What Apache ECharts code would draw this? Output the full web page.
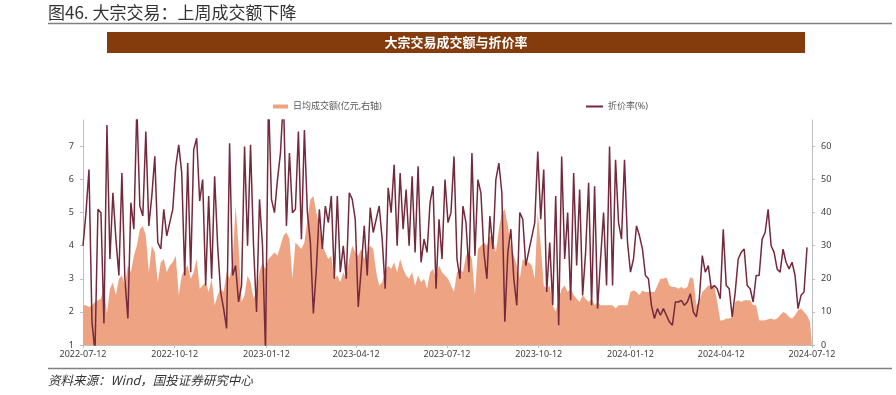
<!DOCTYPE html>
<html><head><meta charset="utf-8">
<script src="https://cdn.jsdelivr.net/npm/echarts@6/dist/echarts.min.js"></script>
<style>html,body{margin:0;padding:0;background:#fff}#c{width:896px;height:395px}</style>
</head><body><div id="c"></div>
<script>
// ---- data ----
const startDate = '2022-07-12';
const endDate = '2024-07-12';
const stepDays = 3; // sampling step of the values below (calendar days)
const xTickDates = ['2022-07-12','2022-10-12','2023-01-12','2023-04-12','2023-07-12','2023-10-12','2024-01-12','2024-04-12','2024-07-12'];
const leftTicks = [1,2,3,4,5,6,7];
const rightTicks = [0,10,20,30,40,50,60];

// 日均成交额 (亿元, right axis)
const turnoverP1 = [12,12,11.5,12,13,13.5,14,18,9.5,17,
  19,15,20,21,18,24,22,27,30,35,
  36,33,22,30,28,19,25,26,22,24,
  25,27,15,21,23,24,20,22,26,17,
  18,19,16,20,12,15,17,16,22,20,
  25,42,30,13,15,21,19,14,16,22,
  25,23];
const turnoverP2 = [26,27,28,27,30,33,34,32,20,31,
  30,29,31,38,44,45,40,36,30,28,
  26,27,20,21,19,22,20,26,30,28,
  27,29,26,28,30,29,22,18,19,22,
  24,23,25,22,26,23,21,20,22,18,
  21,19,20,17,22,23,20,24,22,21];
const turnoverP3 = [20,18,16,22,23,22,27,28,26,15,
  29,30,31,30,33,32,28,35,40,41,
  36,30,27,24,20,26,25,25,24,20,
  40,30,18,17,18,12,10,14,17,18,
  16,17,15,14,13,15,14,13,14,12,
  13,12,12,12,12,12,11,12,12,12,
  12];
const turnoverP4 = [16,16.5,16,15,16.5,16,16,16,16,18,
  20,20,20.5,18,17.5,17.5,17,17.5,17,17.5,
  20.5,20,12,13,16,17,18,18,18,13,
  7.4,7.5,8,8,8.5,13,13.5,13,13.5,13.5,
  13.5,12,12,7.5,7.4,7.5,7.8,8,7.6,8,
  9,10,9.5,8.5,8,9,10.5,11,10,9,
  7,6.5];

// 折价率 (%, left axis)
const discountP1 = [4.0,5.0,6.3,1.7,0.8,5.1,5.0,1.65,7.65,3.6,
  5.6,4.2,3.1,6.2,3.0,1.8,5.3,4.5,8.2,5.2,
  4.9,7.45,4.6,5.5,6.7,4.1,3.9,5.1,4.3,4.7,
  5.1,6.4,7.05,6.2,3.1,6.5,3.2,6.9,7.25,5.35,
  6.0,2.8,5.5,3.0,6.1,4.0,2.6,2.1,1.5,7.1,
  3.1,3.4,2.3,2.8,7.0,4.0,7.05,4.0,2.0,5.4,
  4.0,0.8];
const discountP2 = [8.5,5.4,5.0,6.0,6.8,8.5,4.6,6.8,5.0,5.1,
  7.45,4.2,7.5,5.0,4.1,1.95,3.3,5.1,3.9,5.2,
  4.7,5.5,3.0,5.5,3.2,4.0,3.0,5.6,5.4,4.8,
  2.15,3.3,4.6,3.1,5.15,4.4,4.8,5.2,4.2,2.7,
  5.75,5.0,6.45,4.0,6.2,4.5,5.7,4.0,6.1,3.8,
  6.4,3.5,4.2,3.8,5.3,5.8,2.7,4.8,3.6,6.0];
const discountP3 = [4.7,5.0,6.7,3.6,3.0,5.2,4.7,3.2,6.8,3.7,
  6.0,5.6,3.8,3.0,4.9,3.9,6.0,6.5,5.6,1.7,
  3.8,4.5,3.0,2.2,5.0,4.8,3.4,null,null,4.7,
  6.85,4.8,6.3,2.6,4.1,2.2,5.5,1.6,6.7,3.6,
  5.0,2.35,6.2,3.4,5.7,2.5,3.8,5.9,2.2,5.8,
  2.1,3.6,5.0,2.8,7.0,2.8,6.6,4.7,4.2,6.6,
  4.1];
const discountP4 = [3.2,3.6,4.6,4.3,3.9,3.1,3.0,2.2,1.8,2.1,
  1.9,2.1,1.9,1.7,1.6,2.3,2.3,2.35,2.2,2.3,
  2.55,2.0,1.85,2.4,3.7,3.2,3.4,2.7,2.8,2.7,
  2.4,4.5,2.8,2.7,1.85,2.6,3.6,3.8,3.9,2.8,
  2.7,2.3,3.1,3.1,4.2,4.4,5.1,4.0,3.8,3.3,
  3.2,3.9,3.5,3.3,3.5,3.1,2.1,2.5,2.6,3.95,
  null,null];

// ---- build ----
function parseDate(s){const p=s.split('-').map(Number);return new Date(p[0],p[1]-1,p[2]);}
function fmt(v){const d=new Date(v);return d.getFullYear()+'-'+String(d.getMonth()+1).padStart(2,'0')+'-'+String(d.getDate()).padStart(2,'0');}
const t0 = parseDate(startDate), t1 = parseDate(endDate);
const turnover = [].concat(turnoverP1, turnoverP2, turnoverP3, turnoverP4);
const discount = [].concat(discountP1, discountP2, discountP3, discountP4);
const dates = [];
for (let i = 0; i < turnover.length - 1; i++) {
  dates.push(new Date(t0.getFullYear(), t0.getMonth(), t0.getDate() + stepDays * i).getTime());
}
dates.push(t1.getTime());
const xTickVals = xTickDates.map(s => parseDate(s).getTime());

const AREA = '#EEA383', LINE = '#74293D', AXIS = '#BFBFBF', LABEL = '#404040';
const chart = echarts.init(document.getElementById('c'), null, {renderer:'canvas'});
chart.setOption({
  animation: false,
  backgroundColor: '#fff',
  textStyle: {fontFamily: '"Noto Sans","Noto Sans CJK SC",sans-serif'},
  grid: {left: 83, right: 84, top: 120, bottom: 50, containLabel: false},
  legend: [
    {left: 268, top: 97, itemWidth: 15, itemHeight: 4, data: [{name: '日均成交额(亿元,右轴)', icon: 'rect'}],
     textStyle: {fontSize: 9, color: '#595959'}},
    {left: 581, top: 97, itemWidth: 17, itemHeight: 2, data: [{name: '折价率(%)', icon: 'rect'}],
     textStyle: {fontSize: 9, color: '#595959'}}
  ],
  xAxis: {
    type: 'value', min: t0.getTime(), max: t1.getTime(), scale: true,
    axisLine: {show: true, lineStyle: {color: AXIS}},
    axisTick: {show: true, customValues: xTickVals, length: 3, lineStyle: {color: AXIS}},
    axisLabel: {customValues: xTickVals, formatter: v => fmt(v), fontSize: 9, color: LABEL, margin: 5, hideOverlap: false},
    splitLine: {show: false}
  },
  yAxis: [
    {type: 'value', min: 1, max: 7.8, position: 'left',
     axisLine: {show: true, lineStyle: {color: AXIS}},
     axisTick: {show: true, customValues: leftTicks, length: 3, lineStyle: {color: AXIS}},
     axisLabel: {customValues: leftTicks, fontSize: 9, color: LABEL, margin: 9},
     splitLine: {show: false}},
    {type: 'value', min: 0, max: 68, position: 'right',
     axisLine: {show: true, lineStyle: {color: AXIS}},
     axisTick: {show: true, customValues: rightTicks, length: 3, lineStyle: {color: AXIS}},
     axisLabel: {customValues: rightTicks, fontSize: 9, color: LABEL, margin: 9},
     splitLine: {show: false}}
  ],
  series: [
    {type: 'line', name: '日均成交额(亿元,右轴)', yAxisIndex: 1, color: AREA,
     data: dates.map((d, i) => [d, turnover[i]]),
     symbol: 'none', lineStyle: {width: 0}, areaStyle: {color: AREA, opacity: 1}, z: 1},
    {type: 'line', name: '折价率(%)', yAxisIndex: 0, color: LINE,
     data: dates.map((d, i) => [d, discount[i]]),
     symbol: 'none', connectNulls: true, clip: true, lineStyle: {width: 1.5, color: LINE}, z: 2}
  ],
  graphic: [
    {type: 'text', left: 48, top: 4, style: {text: '图46. 大宗交易：上周成交额下降', fontSize: 17, fontFamily: '"Noto Sans CJK SC"', fill: '#333'}},
    {type: 'line', shape: {x1: 48, y1: 23.5, x2: 892, y2: 23.5}, style: {stroke: '#808080', lineWidth: 1.5}},
    {type: 'rect', shape: {x: 107, y: 32, width: 698, height: 21}, style: {fill: '#843C0C'}},
    {type: 'text', x: 456, y: 42.5, style: {text: '大宗交易成交额与折价率', fontSize: 13, fontWeight: 'bold', fontFamily: '"Noto Sans CJK SC"', fill: '#fff', align: 'center', verticalAlign: 'middle'}},
    {type: 'line', shape: {x1: 48, y1: 368.5, x2: 892, y2: 368.5}, style: {stroke: '#808080', lineWidth: 1.5}},
    {type: 'text', x: 48, y: 380, style: {text: '资料来源：Wind，国投证券研究中心', fontSize: 12.5, fontStyle: 'italic', fontFamily: '"Noto Sans CJK SC"', fill: '#333', verticalAlign: 'middle'}}
  ]
});
</script></body></html>
